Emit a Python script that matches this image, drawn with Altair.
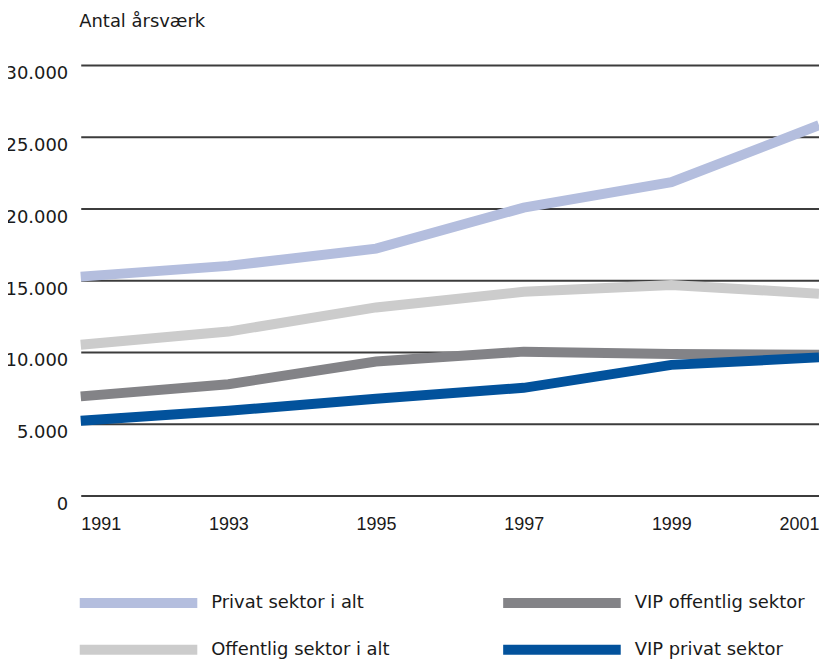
import altair as alt
import pandas as pd

years = [1991, 1993, 1995, 1997, 1999, 2001]
series_names = ["Privat sektor i alt", "Offentlig sektor i alt", "VIP offentlig sektor", "VIP privat sektor"]
privat_i_alt = [15250, 16000, 17200, 20060, 21830, 25800]
offentlig_i_alt = [10500, 11420, 13100, 14190, 14660, 14060]
vip_offentlig = [6900, 7750, 9330, 10020, 9850, 9800]
vip_privat = [5200, 5900, 6740, 7500, 9100, 9620]
colors = ["#b4bede", "#cccccc", "#838387", "#02529c"]
y_ticks = [0, 5000, 10000, 15000, 20000, 25000, 30000]

values_by_series = {
    "Privat sektor i alt": privat_i_alt,
    "VIP offentlig sektor": vip_offentlig,
    "Offentlig sektor i alt": offentlig_i_alt,
    "VIP privat sektor": vip_privat,
}
draw_order = {"Privat sektor i alt": 3, "Offentlig sektor i alt": 2, "VIP offentlig sektor": 1, "VIP privat sektor": 0}

rows = []
for name in series_names:
    for yr, v in zip(years, values_by_series[name]):
        rows.append({"Aar": yr, "Vaerdi": v, "Serie": name, "ord": draw_order[name]})
df = pd.DataFrame(rows)

chart = alt.Chart(df).mark_line(strokeWidth=10, strokeCap="butt", clip=False).encode(
    x=alt.X("Aar:Q",
            scale=alt.Scale(domain=[1991, 2001], nice=False, zero=False),
            axis=alt.Axis(values=years, format="d", title=None, grid=False, domain=False,
                          ticks=False, tickSize=0, labelFlush=True, labelPadding=34,
                          labelBaseline="alphabetic", labelFont="Liberation Sans",
                          labelFontSize=18, labelColor="#1a1a1a")),
    y=alt.Y("Vaerdi:Q",
            scale=alt.Scale(domain=[0, 30000], nice=False),
            axis=alt.Axis(values=y_ticks,
                          labelExpr="replace(format(datum.value, ','), ',', '.')",
                          title="Antal årsværk", titleAngle=0, titleAlign="left",
                          titleBaseline="alphabetic", titleX=-2, titleY=-39,
                          titleFont="DejaVu Sans", titleFontSize=18, titleFontWeight="normal",
                          titleColor="#1a1a1a",
                          grid=True, gridColor="#3c3c3c", gridWidth=2, domain=False,
                          ticks=False, tickSize=0, labelPadding=13, labelLimit=300,
                          labelBaseline="alphabetic", labelOffset=14,
                          labelFont="DejaVu Sans", labelFontSize=18, labelColor="#1a1a1a")),
    color=alt.Color("Serie:N",
                    scale=alt.Scale(domain=series_names, range=colors),
                    legend=alt.Legend(title=None, orient="none", legendX=-6, legendY=530,
                                      columns=2, columnPadding=108, rowPadding=27,
                                      symbolType="stroke", symbolStrokeWidth=10,
                                      symbolSize=13924, clipHeight=20, labelOffset=9,
                                      labelLimit=400, labelFont="DejaVu Sans",
                                      labelFontSize=18, labelColor="#1a1a1a", padding=0)),
    order=alt.Order("ord:Q"),
).properties(
    width=741,
    height=432,
    padding={"left": 73, "top": 56, "right": 0, "bottom": 163},
    autosize=alt.AutoSizeParams(type="none"),
).configure_view(stroke=None)

chart.save("out.html", embed_options={"renderer": "svg", "actions": False})
